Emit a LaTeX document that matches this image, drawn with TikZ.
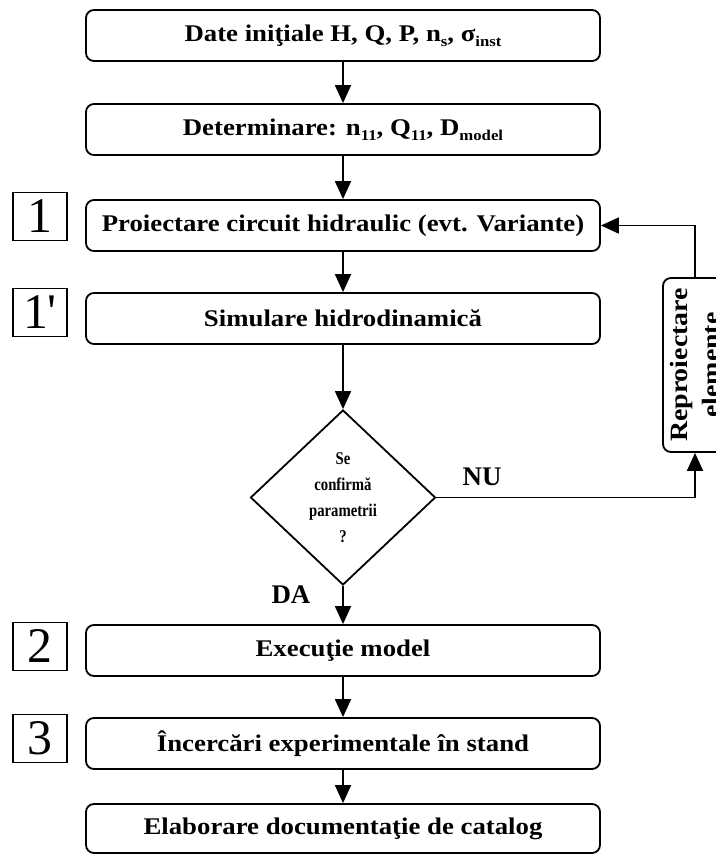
\documentclass[tikz,border=0pt]{standalone}
\usepackage{fontspec}
\setmainfont{Liberation Serif}
\newfontfamily\widefont[FakeStretch=1.12]{Liberation Serif}
\newfontfamily\narrowfont[FakeStretch=0.82]{Liberation Serif}
\newfontfamily\tagfont[Ligatures=TeXOff]{Liberation Serif}
\usetikzlibrary{arrows.meta,shapes.geometric}

% lowered subscript in text mode
\newcommand\lowsub[1]{\raisebox{-0.45ex}{\fontsize{15}{15}\selectfont #1}}

\begin{document}
\begin{tikzpicture}[x=1bp,y=-1bp,
  stage/.style={draw, line width=1.8bp, rounded corners=8bp,
    minimum width=514bp, minimum height=51bp, inner sep=0pt,
    font=\widefont\fontsize{24}{28}\selectfont\bfseries},
  tag/.style={draw, line width=1.6bp, minimum width=54bp,
    minimum height=48bp, inner sep=0pt,
    font=\tagfont\fontsize{50}{50}\selectfont},
  choice/.style={draw, diamond, line width=1.8bp, minimum width=185bp,
    minimum height=175bp, inner sep=0pt, align=center,
    font=\narrowfont\fontsize{18}{26}\selectfont\bfseries},
  sidebox/.style={draw, line width=1.8bp, rounded corners=8bp, rotate=90,
    minimum width=174bp, minimum height=64bp, inner sep=0pt, align=center,
    font=\widefont\fontsize{25}{32}\selectfont\bfseries},
  answer/.style={inner sep=0pt, font=\fontsize{27}{27}\selectfont\bfseries},
  flow/.style={line width=1.8bp, -{Triangle[length=18bp,width=16bp]}}]

\useasboundingbox (0,0) rectangle (716,855);

% main chain of steps
\node[stage] (init) at (343,35.5)
  {Date iniţiale H, Q, P, n\lowsub{s}, σ\lowsub{inst}};
\node[stage] (det) at (343,129.5)
  {Determinare: n\lowsub{11}, Q\lowsub{11}, D\lowsub{model}};
\node[stage] (proj) at (343,225.5) {Proiectare circuit hidraulic (evt. Variante)};
\node[stage] (sim) at (343,318.5) {Simulare hidrodinamică};
\node[choice] (dec) at (343,497.5) {Se\\confirmă\\parametrii\\?};
\node[stage] (exec) at (343,650.5) {Execuţie model};
\node[stage] (test) at (343,743.5) {Încercări experimentale în stand};
\node[stage, minimum height=49bp] (doc) at (343,828.5) {Elaborare documentaţie de catalog};

% phase numbers on the left
\node[tag] (t1) at (40,216.5) {1};
\node[tag] (t1p) at (40,312.5) {1'};
\node[tag] (t2) at (40,646.5) {2};
\node[tag] (t3) at (40,738.5) {3};

% redesign loop
\node[sidebox] (redo) at (695,365) {Reproiectare\\elemente};

% answer labels
\node[answer] (no) at (482,477) {NU};
\node[answer] (yes) at (291,595) {DA};

% connectors
\draw[flow] (init) -- (det);
\draw[flow] (det) -- (proj);
\draw[flow] (proj) -- (sim);
\draw[flow] (sim) -- (dec);
\draw[flow] (dec) -- (exec);
\draw[flow] (exec) -- (test);
\draw[flow] (test) -- (doc);
\draw[flow] (dec.east) -| (redo.west);
\draw[flow] (redo.east) |- (proj.east);
\end{tikzpicture}
\end{document}
